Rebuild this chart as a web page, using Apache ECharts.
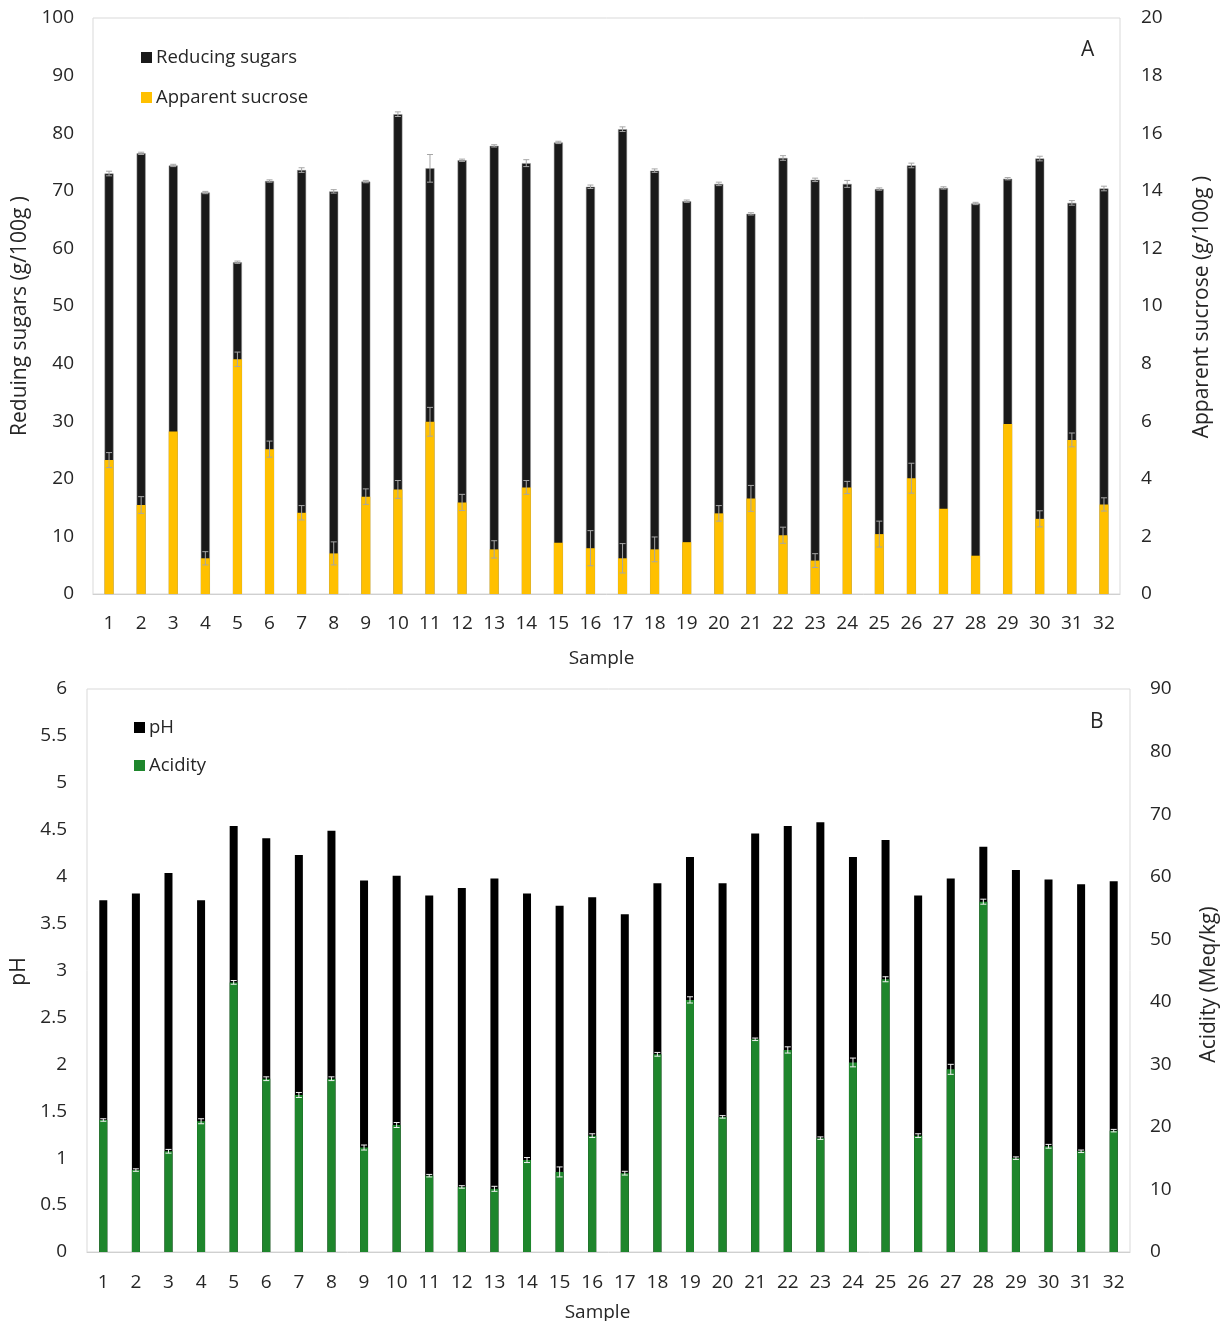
<!DOCTYPE html>
<html>
<head>
<meta charset="utf-8">
<script src="https://cdn.jsdelivr.net/npm/echarts@6/dist/echarts.min.js"></script>
<style>
  html, body { margin: 0; padding: 0; background: #fff; }
  #chart { width: 1232px; height: 1321px; }
</style>
</head>
<body>
<div id="chart"></div>
<script>
// samples 1..32
var samples = []
for (var i = 1; i <= 32; i++) samples.push(String(i))

// panel A
var reducingSugars = [73.0, 76.5, 74.4, 69.7, 57.6, 71.7, 73.6, 69.9, 71.6, 83.3, 73.9, 75.3, 77.8, 74.8, 78.4, 70.7,
  80.7, 73.5, 68.2, 71.2, 66.0, 75.7, 71.9, 71.2, 70.3, 74.4, 70.5, 67.8, 72.1, 75.6, 67.9, 70.4]
var reducingErr = [0.4, 0.2, 0.2, 0.2, 0.2, 0.2, 0.4, 0.3, 0.2, 0.4, 2.4, 0.2, 0.2, 0.6, 0.2, 0.3,
  0.4, 0.3, 0.2, 0.3, 0.2, 0.4, 0.3, 0.6, 0.2, 0.4, 0.2, 0.2, 0.2, 0.4, 0.4, 0.4]
var sucrose = [4.65, 3.09, 5.64, 1.24, 8.15, 5.03, 2.82, 1.41, 3.38, 3.63, 5.98, 3.18, 1.55, 3.70, 1.78, 1.59,
  1.24, 1.55, 1.80, 2.80, 3.32, 2.04, 1.16, 3.70, 2.08, 4.02, 2.96, 1.33, 5.90, 2.61, 5.35, 3.11]
var sucroseErr = [0.26, 0.29, 0, 0.23, 0.25, 0.28, 0.25, 0.40, 0.27, 0.31, 0.50, 0.28, 0.30, 0.24, 0, 0.61,
  0.51, 0.43, 0, 0.27, 0.45, 0.28, 0.24, 0.21, 0.45, 0.52, 0, 0, 0, 0.28, 0.24, 0.23]

// panel B
var ph = [3.75, 3.82, 4.04, 3.75, 4.54, 4.41, 4.23, 4.49, 3.96, 4.01, 3.80, 3.88, 3.98, 3.82, 3.69, 3.78,
  3.60, 3.93, 4.21, 3.93, 4.46, 4.54, 4.58, 4.21, 4.39, 3.80, 3.98, 4.32, 4.07, 3.97, 3.92, 3.95]
var acidity = [21.1, 13.1, 16.1, 20.9, 43.1, 27.7, 25.1, 27.7, 16.7, 20.3, 12.2, 10.4, 10.1, 14.7, 12.8, 18.6,
  12.6, 31.6, 40.3, 21.6, 34.0, 32.3, 18.2, 30.3, 43.6, 18.6, 29.2, 56.0, 15.0, 16.9, 16.1, 19.4]
var acidityErr = [0.2, 0.2, 0.3, 0.4, 0.3, 0.3, 0.4, 0.3, 0.4, 0.4, 0.2, 0.2, 0.4, 0.4, 0.8, 0.3,
  0.3, 0.3, 0.5, 0.2, 0.2, 0.5, 0.2, 0.7, 0.4, 0.3, 0.8, 0.4, 0.2, 0.3, 0.2, 0.2]

var font = 'Open Sans'
var txt = '#262626'

var chart = echarts.init(document.getElementById('chart'))

function errSeries(xIdx, yIdx, vals, errs, color) {
  return {
    type: 'custom',
    xAxisIndex: xIdx,
    yAxisIndex: yIdx,
    silent: true,
    z: 10,
    encode: { x: 0, y: 1 },
    data: vals.map(function (v, i) { return [i, v, errs[i]] }),
    renderItem: function (params, api) {
      var e = api.value(2)
      if (!e) return
      var v = api.value(1)
      var top = api.coord([api.value(0), v + e])
      var bot = api.coord([api.value(0), v - e])
      var w = 3
      var st = { stroke: color, lineWidth: 1 }
      return {
        type: 'group',
        children: [
          { type: 'line', shape: { x1: top[0], y1: top[1], x2: bot[0], y2: bot[1] }, style: st },
          { type: 'line', shape: { x1: top[0] - w, y1: top[1], x2: top[0] + w, y2: top[1] }, style: st },
          { type: 'line', shape: { x1: bot[0] - w, y1: bot[1], x2: bot[0] + w, y2: bot[1] }, style: st }
        ]
      }
    }
  }
}

// shift moves the rotated name down the axis (px)
function yAx(gridIdx, min, max, interval, name, gap, pos, margin, shift) {
  return {
    type: 'value',
    gridIndex: gridIdx,
    position: pos,
    min: min,
    max: max,
    interval: interval,
    name: name,
    nameLocation: 'middle',
    nameGap: gap,
    nameTextStyle: { fontFamily: font, fontSize: 21, color: txt, padding: [0, shift * 2, 0, 0] },
    axisLine: { show: false },
    axisTick: { show: false },
    splitLine: { show: false },
    axisLabel: { fontFamily: font, fontSize: 19, color: txt, margin: margin }
  }
}

// shift moves the name left (px)
function xAx(gridIdx, gap, margin, shift) {
  return {
    type: 'category',
    gridIndex: gridIdx,
    data: samples,
    name: 'Sample',
    nameLocation: 'middle',
    nameGap: gap,
    nameTextStyle: { fontFamily: font, fontSize: 19, color: txt, padding: [0, shift * 2, 0, 0] },
    axisLine: { show: true, lineStyle: { color: '#d0d0d0' } },
    axisTick: { show: false },
    axisLabel: { interval: 0, fontFamily: font, fontSize: 19, color: txt, margin: margin }
  }
}

var legendBase = {
  orient: 'vertical',
  icon: 'rect',
  itemWidth: 11,
  itemHeight: 11,
  itemGap: 21,
  itemStyle: { borderWidth: 0 },
  textStyle: { fontFamily: font, fontSize: 18.5, color: txt, padding: [0, 0, 0, -1] }
}

var option = {
  backgroundColor: '#fff',
  animation: false,
  grid: [
    { left: 93, top: 18, width: 1027, height: 576, outerBoundsMode: 'none', show: true, borderColor: '#d9d9d9', borderWidth: 1 },
    { left: 87, top: 689, width: 1043, height: 563, outerBoundsMode: 'none', show: true, borderColor: '#d9d9d9', borderWidth: 1 }
  ],
  legend: [
    Object.assign({}, legendBase, { data: ['Reducing sugars', 'Apparent sucrose'], left: 136, top: 43 }),
    Object.assign({}, legendBase, { data: ['pH', 'Acidity'], left: 129, top: 713, itemGap: 19 })
  ],
  graphic: [
    { type: 'text', left: 1081, top: 40, style: { text: 'A', fontFamily: font, fontSize: 21, fill: txt } },
    { type: 'text', left: 1090, top: 712, style: { text: 'B', fontFamily: font, fontSize: 21, fill: txt } }
  ],
  xAxis: [xAx(0, 55, 20, 5), xAx(1, 51, 21, 11)],
  yAxis: [
    yAx(0, 0, 100, 10, 'Reduing sugars (g/100g )', 60, 'left', 19, 10),
    yAx(0, 0, 20, 2, 'Apparent sucrose (g/100g )', 72, 'right', 21, 1),
    yAx(1, 0, 6, 0.5, 'pH', 54, 'left', 20, 1),
    yAx(1, 0, 90, 10, 'Acidity (Meq/kg)', 69, 'right', 20, 14)
  ],
  series: [
    {
      name: 'Reducing sugars',
      type: 'bar',
      xAxisIndex: 0,
      yAxisIndex: 0,
      barWidth: 9,
      barGap: '-100%',
      itemStyle: { color: '#1a1a1a', borderColor: '#9a9a9a', borderWidth: 0.5 },
      data: reducingSugars
    },
    {
      name: 'Apparent sucrose',
      type: 'bar',
      xAxisIndex: 0,
      yAxisIndex: 1,
      barWidth: 9,
      barGap: '-100%',
      itemStyle: { color: '#ffc000' },
      data: sucrose
    },
    errSeries(0, 0, reducingSugars, reducingErr, '#a6a6a6'),
    errSeries(0, 1, sucrose, sucroseErr, '#a6a6a6'),
    {
      name: 'pH',
      type: 'bar',
      xAxisIndex: 1,
      yAxisIndex: 2,
      barWidth: 8,
      barGap: '-100%',
      itemStyle: { color: '#000000' },
      data: ph
    },
    {
      name: 'Acidity',
      type: 'bar',
      xAxisIndex: 1,
      yAxisIndex: 3,
      barWidth: 8,
      barGap: '-100%',
      itemStyle: { color: '#1e862c' },
      data: acidity
    },
    errSeries(1, 3, acidity, acidityErr, '#f0f0f0')
  ]
}

chart.setOption(option)
</script>
</body>
</html>
